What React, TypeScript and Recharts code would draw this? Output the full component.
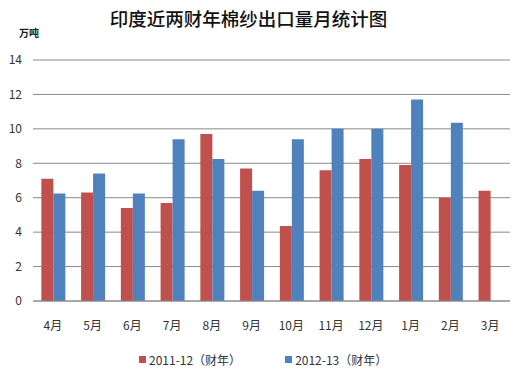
import { Bar, BarChart, CartesianGrid, XAxis, YAxis } from 'recharts'

const MONTHS = ['4月', '5月', '6月', '7月', '8月', '9月', '10月', '11月', '12月', '1月', '2月', '3月']
const FY2011 = [7.1, 6.3, 5.4, 5.7, 9.7, 7.7, 4.35, 7.6, 8.25, 7.9, 6.0, 6.4]
const FY2012 = [6.25, 7.4, 6.25, 9.4, 8.25, 6.4, 9.4, 10.0, 10.0, 11.7, 10.35, null]
const Y_TICKS = [0, 2, 4, 6, 8, 10, 12, 14]

const SERIES = [
  { key: 'fy2011', name: '2011-12（财年）', color: '#C0504D' },
  { key: 'fy2012', name: '2012-13（财年）', color: '#4F81BD' },
]

const data = MONTHS.map((month, i) => ({ month, fy2011: FY2011[i], fy2012: FY2012[i] }))

const FONT = '"Noto Sans CJK SC", "Noto Sans", sans-serif'
const tick = { fontSize: 12, fill: '#333', fontFamily: FONT }

export default function App() {
  return (
    <div style={{ position: 'absolute', left: 0, top: 0, width: 531, height: 389, background: '#fff', fontFamily: FONT }}>
      <div style={{ position: 'absolute', top: 5, left: 0, width: 497, textAlign: 'center', fontSize: 18.5, fontWeight: 500, color: '#111' }}>
        印度近两财年棉纱出口量月统计图
      </div>
      <div style={{ position: 'absolute', top: 25, left: 19, fontSize: 10, fontWeight: 700, color: '#222' }}>万吨</div>
      <BarChart
        width={531}
        height={389}
        data={data}
        margin={{ top: 60, right: 21, bottom: 58, left: 0 }}
        barCategoryGap="21%"
        barGap={0}
      >
        <CartesianGrid vertical={false} stroke="#8a8a8a" />
        <XAxis
          dataKey="month"
          tick={tick}
          tickLine={false}
          axisLine={{ stroke: '#8a8a8a' }}
          tickMargin={14}
          height={30}
        />
        <YAxis
          domain={[0, 14]}
          ticks={Y_TICKS}
          tick={tick}
          tickLine={false}
          axisLine={false}
          tickSize={0}
          tickMargin={11}
          width={33}
        />
        {SERIES.map((s) => (
          <Bar key={s.key} dataKey={s.key} name={s.name} fill={s.color} isAnimationActive={false} />
        ))}
      </BarChart>
      <div style={{ position: 'absolute', top: 351, left: 139, display: 'flex', gap: 44, fontSize: 12, color: '#333' }}>
        {SERIES.map((s) => (
          <div key={s.key} style={{ display: 'flex', alignItems: 'center' }}>
            <span style={{ width: 7, height: 7, background: s.color, marginRight: 3, display: 'inline-block' }} />
            {s.name}
          </div>
        ))}
      </div>
    </div>
  )
}
